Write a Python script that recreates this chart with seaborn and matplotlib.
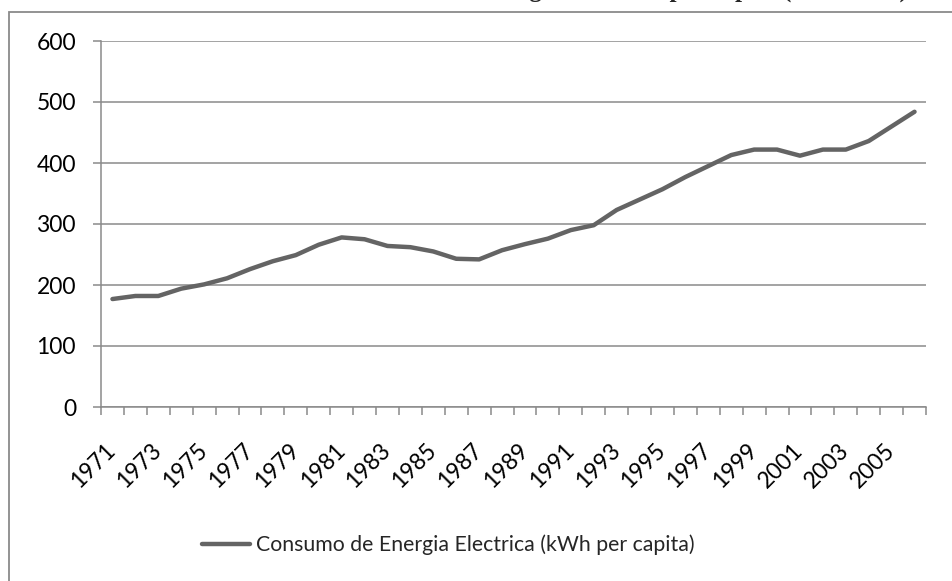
import matplotlib
matplotlib.use("Agg")
import matplotlib.pyplot as plt
from matplotlib.patches import Rectangle
from matplotlib.ticker import FixedLocator
import seaborn as sns
import pandas as pd
import numpy as np

# valores (kWh per capita)
years = list(range(1971, 2007))
consumo = [177, 182, 182, 194, 201, 211, 226, 239, 249, 266,
           278, 275, 264, 262, 255, 243, 242, 257, 267, 276,
           290, 298, 323, 340, 357, 377, 395, 413, 422, 422,
           412, 422, 422, 436, 460, 484]
serie = "Consumo de Energia Electrica (kWh per capita)"
titulo = "Consumo de Energía Eléctrica per cápita (1971-2006)"
label_years = years[::2]   # 1971, 1973, ... 2005

df = pd.DataFrame({"anio": years, "valor": consumo})

sns.set_theme(style="white")
plt.rcParams['font.family'] = ['Lato', 'DejaVu Sans']

gris = "#8a8a8a"
fig = plt.figure(figsize=(9.52, 5.81), dpi=100)
W, H = 952, 581
ax = fig.add_axes([101 / W, 1 - 407 / H, (926 - 101) / W, (407 - 41) / H])

sns.lineplot(data=df, x="anio", y="valor", ax=ax, color="#646464",
             linewidth=3.2, label=serie, legend=False)

ax.set_xlim(1970.5, 2006.5)
ax.set_ylim(0, 600)
ax.set_yticks(np.arange(0, 601, 100))
ax.yaxis.grid(True, color=gris, linewidth=1.1)
ax.set_axisbelow(True)

# ticks entre categorias, etiquetas centradas en los años
ax.xaxis.set_major_locator(FixedLocator(np.arange(1970.5, 2007, 1)))
ax.set_xticklabels([])
ax.xaxis.set_minor_locator(FixedLocator(label_years))
ax.set_xticklabels([str(y) for y in label_years], minor=True,
                   rotation=45, ha="right", va="center", rotation_mode="anchor")
ax.tick_params(axis="x", which="major", bottom=True, length=6, width=1.1,
               color=gris, direction="out")
ax.tick_params(axis="x", which="minor", bottom=True, length=0, pad=29,
               labelsize=16.5, labelcolor="black")
ax.tick_params(axis="y", left=True, length=6, width=1.1, color=gris,
               direction="out", labelsize=16.5, labelcolor="black", pad=12)

for s in ["top", "right"]:
    ax.spines[s].set_visible(False)
for s in ["left", "bottom"]:
    ax.spines[s].set_color(gris)
    ax.spines[s].set_linewidth(1.1)
ax.set_xlabel("")
ax.set_ylabel("")

handles, labels = ax.get_legend_handles_labels()
fig.legend(handles, labels, loc="center", bbox_to_anchor=(448 / W, 1 - 545 / H),
           frameon=False, fontsize=15.3, handlelength=2.3, handletextpad=0.25)

# marco del grafico (recortado en la imagen original)
fig.patches.append(Rectangle((8.5 / W, -0.1), 1.2, 1 - 12 / H + 0.1,
                             transform=fig.transFigure, fill=False,
                             edgecolor=gris, linewidth=1.3))

# titulo recortado arriba, como en el original
fig.text(908 / W, 1 + 3.5 / H, titulo, ha="right", va="baseline",
         fontsize=18, fontweight="bold", family="Liberation Serif")

fig.savefig("out.png", dpi=100)
